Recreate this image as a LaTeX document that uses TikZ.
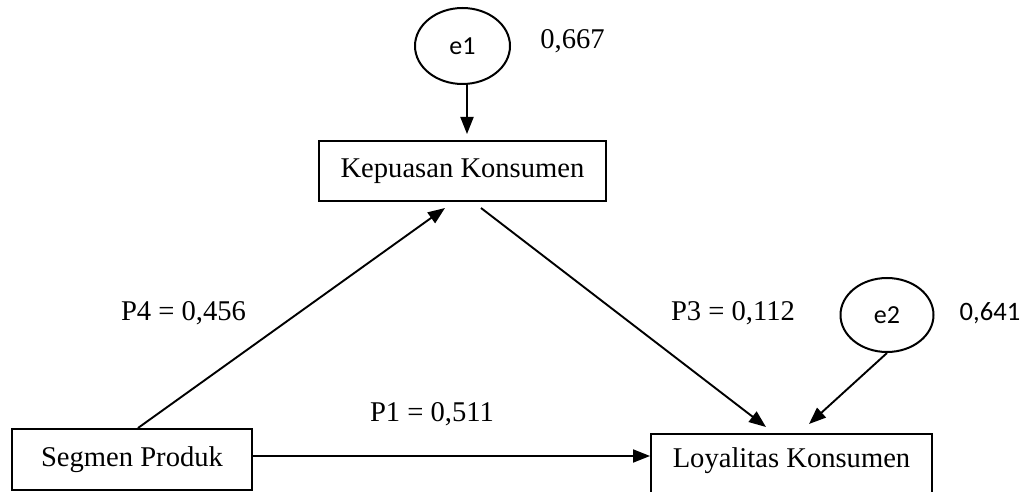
\documentclass[tikz,border=0pt]{standalone}
\usepackage{fontspec}
\setmainfont{Liberation Serif}
\newfontfamily\calib{Carlito}
\usetikzlibrary{arrows.meta,shapes.geometric,calc}
\begin{document}
\begin{tikzpicture}[x=0.5pt,y=-0.5pt,
  box/.style={draw, line width=1pt, rectangle, inner sep=3pt, font=\fontsize{14.3}{17}\selectfont},
  err/.style={draw, line width=1pt, ellipse, inner sep=0pt, font=\calib\fontsize{13}{15}\selectfont},
  arr/.style={line width=0.95pt, -{Triangle[length=8.5pt,width=6.5pt]}},
  lab/.style={font=\fontsize{14.3}{17}\selectfont, inner sep=0pt},
  slab/.style={font=\calib\fontsize{13.3}{15}\selectfont, inner sep=0pt}]
\clip (0,0) rectangle (1030,492);
% nodes
\node[box, minimum width=120pt, minimum height=30.5pt] (seg) at (132,459.5) {Segmen Produk};
\node[box, minimum width=143.5pt, minimum height=30pt] (kep) at (462.5,171) {Kepuasan Konsumen};
\node[box, minimum width=140.5pt, text height=13.5pt, text depth=14pt, anchor=north] (loy) at (791.5,433) {Loyalitas Konsumen};
\node[err, minimum width=47.5pt, minimum height=38pt] (e1) at (462.5,46) {e1};
\node[err, minimum width=46.5pt, minimum height=37pt] (e2) at (887,315) {e2};
% labels
\node[lab] (v1) at (572.5,41) {0,667};
\node[slab] (v2) at (990,313) {0,641};
\node[lab] (p4) at (183.5,313) {P4 = 0,456};
\node[lab] (p3) at (733,313) {P3 = 0,112};
\node[lab] (p1) at (432,414) {P1 = 0,511};
% connectors
\coordinate (p1s) at ([yshift=1.75pt]seg.east);
\draw[arr] ([xshift=2.25pt]e1.south) -- ([xshift=2.25pt,yshift=3pt]kep.north);
\draw[arr] ([xshift=3pt]seg.north) -- ([xshift=-8.75pt,yshift=-3pt]kep.south);
\draw[arr] ([xshift=9.25pt,yshift=-3pt]kep.south) -- ([xshift=-12.75pt,yshift=3pt]loy.north);
\draw[arr] (e2.south) -- ([xshift=8.75pt,yshift=4.5pt]loy.north);
\draw[arr] (p1s) -- (p1s -| loy.west);
\end{tikzpicture}
\end{document}
